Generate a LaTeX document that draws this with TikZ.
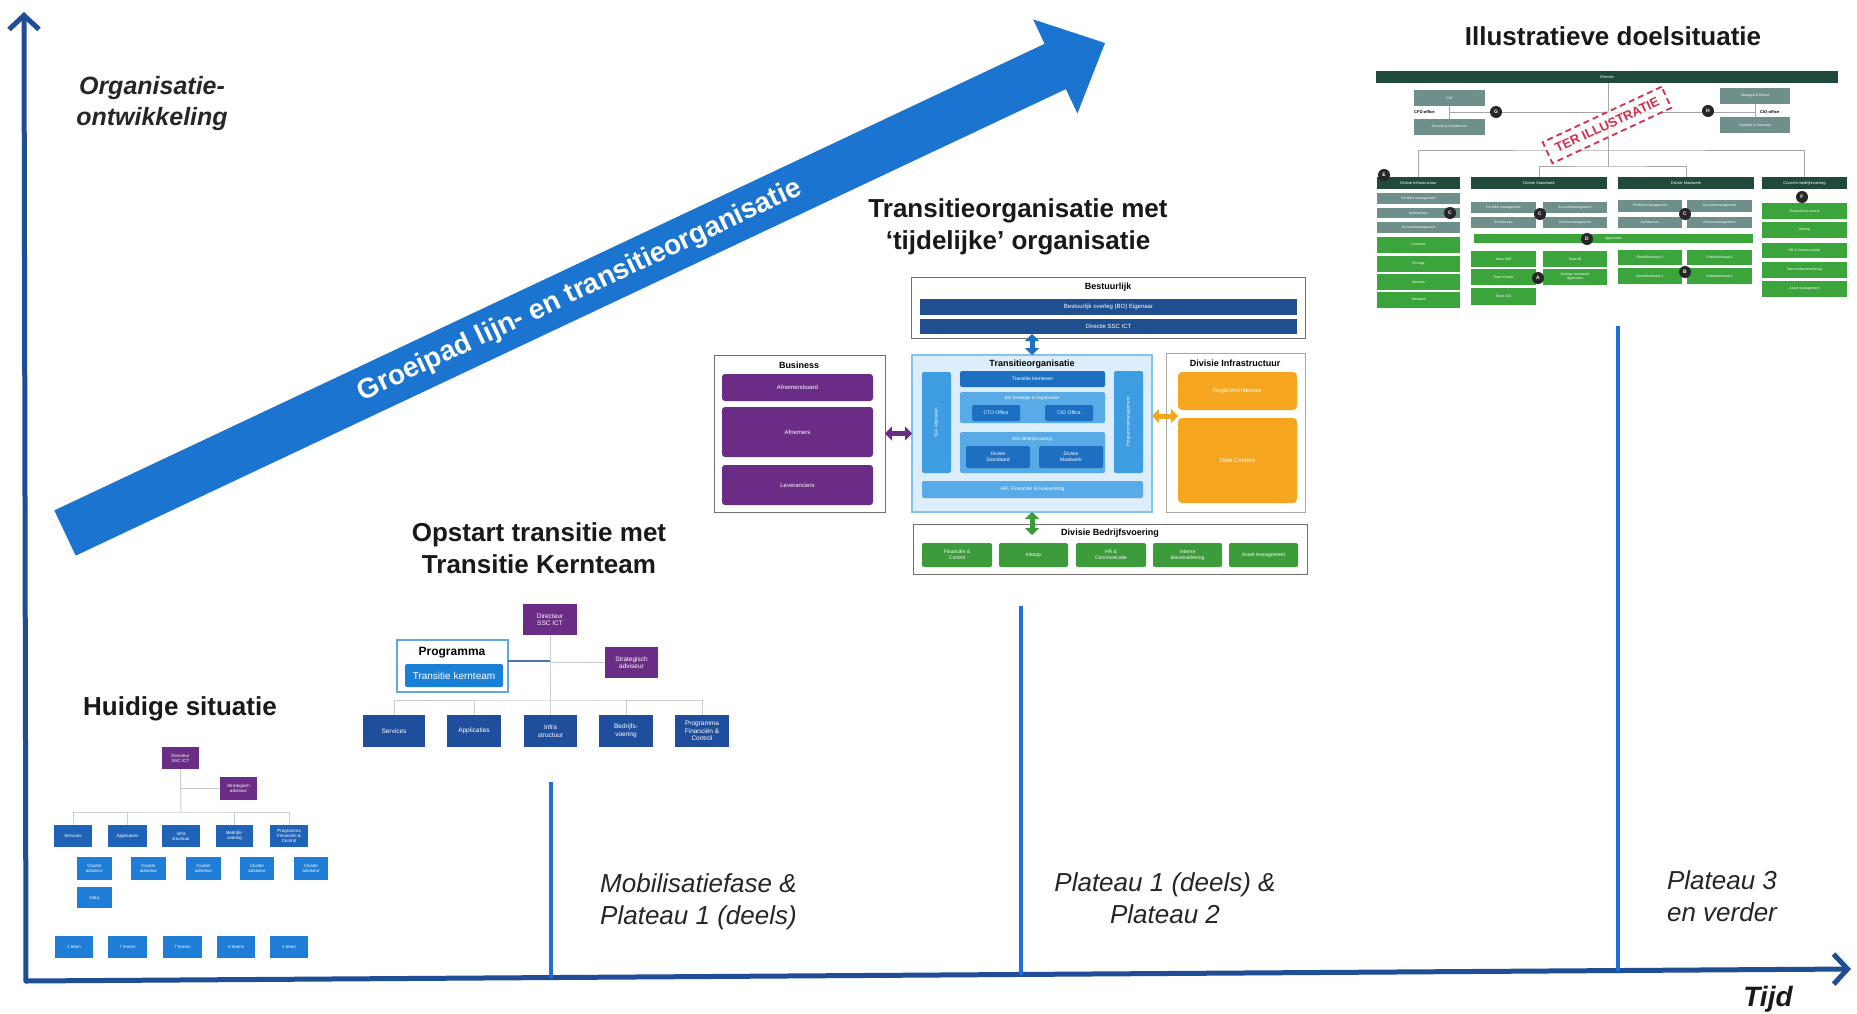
\documentclass[tikz,border=0pt]{standalone}
\usepackage{fontspec}
\setmainfont{Liberation Sans}
\usetikzlibrary{arrows.meta}
\definecolor{axisblue}{HTML}{1F4E96}
\definecolor{divblue}{HTML}{1F6FD6}
\definecolor{arrowblue}{HTML}{1B74CF}
\definecolor{hblue}{HTML}{1F63B8}
\definecolor{hlight}{HTML}{1E7DD6}
\definecolor{purp}{HTML}{6B2C86}
\definecolor{oblue}{HTML}{1F4F9C}
\definecolor{kblue}{HTML}{1A80D6}
\definecolor{navybar}{HTML}{1F4F8F}
\definecolor{tbg}{HTML}{DCEEFB}
\definecolor{tborder}{HTML}{86C3EC}
\definecolor{tside}{HTML}{3E9CE0}
\definecolor{tdark}{HTML}{1D6FC2}
\definecolor{tgroup}{HTML}{58ABE6}
\definecolor{orng}{HTML}{F5A61E}
\definecolor{grn}{HTML}{3C9C3C}
\definecolor{dgreen}{HTML}{1F4A3A}
\definecolor{gteal}{HTML}{6F8F8B}
\definecolor{lgreen}{HTML}{3BA53B}
\definecolor{stampred}{HTML}{D92E4A}
\definecolor{faintc}{HTML}{C9CED6}
\definecolor{boxgray}{HTML}{707070}
\newcommand\myfs[2]{\fontsize{#1}{#2}\selectfont}
\newcommand\obox[7]{%
  \pgfmathsetmacro\obw{#4-#2}\pgfmathsetmacro\obh{#5-#3}%
  \pgfmathsetmacro\obx{(#2+#4)/2}\pgfmathsetmacro\oby{(#3+#5)/2}%
  \node[#6,minimum width=\obw pt,minimum height=\obh pt] (#1) at (\obx,\oby) {#7};}
\begin{document}
\begin{tikzpicture}[x=1pt,y=-1pt,
  base/.style={inner sep=0pt,outer sep=0pt,align=center,text=white},
  hb/.style={base,fill=hblue,font=\myfs{4.5}{5}},
  hl/.style={base,fill=hlight,font=\myfs{4.5}{5}},
  pb/.style={base,fill=purp,font=\myfs{4.5}{5}},
  ob/.style={base,fill=oblue,font=\myfs{6.5}{7.5}},
  opb/.style={base,fill=purp,font=\myfs{6.5}{7.5}},
  frame/.style={base,draw=boxgray,line width=1pt,fill=white},
  ttl/.style={inner sep=0pt,font=\myfs{9}{10}\bfseries,text=black},
  navy/.style={base,fill=navybar,font=\myfs{6}{7}},
  pr/.style={base,fill=purp,rounded corners=3pt,font=\myfs{6}{7}},
  td/.style={base,fill=tdark,rounded corners=1.5pt,font=\myfs{5}{6}},
  tg/.style={base,fill=tgroup,rounded corners=2pt,font=\myfs{5}{6}},
  ts/.style={base,fill=tside,rounded corners=2pt,font=\myfs{5}{6}},
  og/.style={base,fill=orng,rounded corners=4pt,font=\myfs{6}{7}},
  gb/.style={base,fill=grn,rounded corners=2pt,font=\myfs{5}{6}},
  dh/.style={base,fill=dgreen,font=\myfs{4}{4.5}},
  dg/.style={base,fill=gteal,font=\myfs{3.5}{4}},
  dl/.style={base,fill=lgreen,font=\myfs{3.5}{4}},
  circ/.style={circle,fill=black!85,text=white,inner sep=0pt,minimum size=12pt,font=\myfs{5}{5}\bfseries},
  faint/.style={draw=faintc,line width=1pt},
  dline/.style={draw=gray!70,line width=0.8pt},
  axisline/.style={draw=axisblue,line width=5pt,line cap=round,line join=round},
  divline/.style={draw=divblue,line width=4pt},
  title/.style={inner sep=0pt,align=center,font=\myfs{26}{32}\bfseries,text=black!90},
  phase/.style={inner sep=0pt,font=\myfs{26}{32}\itshape,text=black!85},
  dbl/.style={line width=5pt}
]
\fill[white] (0,0) rectangle (1857,1014);
\useasboundingbox (0,0) rectangle (1857,1014);

% axes
\coordinate (origin) at (26,981);
\coordinate (ytop) at (24,12);
\coordinate (xend) at (1851,969);
\draw[axisline,-{Straight Barb[length=14pt,width=30pt]}] (origin) -- (ytop);
\draw[axisline,-{Straight Barb[length=14pt,width=30pt]}] (origin) -- (xend);

% dividers
\draw[divline] (551,782) -- (551,978);
\draw[divline] (1021,606) -- (1021,975);
\draw[divline] (1618,326) -- (1618,971);

% big arrow
\fill[arrowblue] (75.7,555.6) -- (54.3,510.4) -- (1044.6,43.8) -- (1033.1,19.4) -- (1105,43) -- (1077.4,113.5) -- (1065.9,89.1) -- cycle;
\node[inner sep=0pt,rotate=25.2,text=white,font=\myfs{28}{30}\bfseries] (grow) at (580,291) {Groeipad lijn- en transitieorganisatie};

% labels
\node[inner sep=0pt,align=center,font=\myfs{25}{31}\bfseries\itshape,text=black!85] (yl) at (152,104) {Organisatie-\\ontwikkeling};
\node[inner sep=0pt,font=\myfs{28}{30}\bfseries\itshape,text=black!90] (xl) at (1768,999) {Tijd};
\node[phase,align=left,anchor=west] (ph1) at (600,902) {Mobilisatiefase \&\\Plateau 1 (deels)};
\node[phase,align=center] (ph2) at (1165,898) {Plateau 1 (deels) \&\\Plateau 2};
\node[phase,align=center] (ph3) at (1722,896) {Plateau 3\\en verder};

\node[title] (t1) at (180,709) {Huidige situatie};
\node[title] (t2) at (539,548) {Opstart transitie met\\Transitie Kernteam};
\node[title] (t3) at (1018,227) {Transitieorganisatie met\\‘tijdelijke’ organisatie};
\node[title] (t4) at (1613,36) {Illustratieve doelsituatie};

% ---------- Huidige situatie ----------
\obox{h-dir}{162}{747}{199}{769}{pb}{Directeur\\SSC ICT}
\obox{h-adv}{220}{777}{257}{800}{pb}{Strategisch\\adviseur}
\obox{h-r1}{54}{825}{92}{847}{hb}{Services}
\obox{h-r2}{108}{825}{147}{847}{hb}{Applicaties}
\obox{h-r3}{162}{825}{200}{847}{hb}{Infra\\structuur}
\obox{h-r4}{216}{825}{253}{847}{hb}{Bedrijfs-\\voering}
\obox{h-r5}{270}{825}{308}{847}{hb}{Programma\\Financiën \&\\Control}
\obox{h-s1}{77}{857}{112}{880}{hl}{Cluster\\adviseur}
\obox{h-s2}{131}{857}{166}{880}{hl}{Cluster\\adviseur}
\obox{h-s3}{186}{857}{221}{880}{hl}{Cluster\\adviseur}
\obox{h-s4}{240}{857}{274}{880}{hl}{Cluster\\adviseur}
\obox{h-s5}{294}{857}{328}{880}{hl}{Cluster\\adviseur}
\obox{h-s6}{77}{887}{112}{908}{hl}{Data}
\obox{h-t1}{55}{936}{93}{958}{hl}{1 team}
\obox{h-t2}{108}{936}{147}{958}{hl}{7 teams}
\obox{h-t3}{163}{936}{202}{958}{hl}{7 teams}
\obox{h-t4}{217}{936}{255}{958}{hl}{4 teams}
\obox{h-t5}{270}{936}{308}{958}{hl}{1 team}
\coordinate (hbus) at (181,812);
\draw[faint] (h-dir.south) -- (hbus);
\draw[faint] (h-r1.north) |- (hbus) -| (h-r5.north);
\draw[faint] (h-r2.north) -- (h-r2.north |- hbus);
\draw[faint] (h-r4.north) -- (h-r4.north |- hbus);
\draw[faint] (h-dir.south |- h-adv.west) -- (h-adv.west);

% ---------- Opstart transitie ----------
\obox{o-dir}{523}{604}{577}{635}{opb}{Directeur\\SSC ICT}
\obox{o-adv}{605}{647}{658}{678}{opb}{Strategisch\\adviseur}
\obox{o-prog}{397}{640}{508}{692}{base,draw=kblue!70,line width=1.5pt,fill=white}{}
\node[inner sep=0pt,font=\myfs{12}{13}\bfseries,text=black] (o-progt) at (452,653) {Programma};
\obox{o-kern}{405}{664}{503}{687}{base,fill=kblue,rounded corners=2pt,font=\myfs{10}{11}}{Transitie kernteam}
\obox{o-r1}{363}{715}{425}{747}{ob}{Services}
\obox{o-r2}{447}{715}{501}{747}{ob}{Applicaties}
\obox{o-r3}{524}{715}{577}{747}{ob}{Infra\\structuur}
\obox{o-r4}{599}{715}{653}{747}{ob}{Bedrijfs-\\voering}
\obox{o-r5}{675}{715}{729}{747}{ob}{Programma\\Financiën \&\\Control}
\coordinate (obus) at (550,700);
\draw[faint] (o-dir.south) -- (obus);
\draw[faint] (o-r1.north) |- (obus) -| (o-r5.north);
\draw[faint] (o-r2.north) -- (o-r2.north |- obus);
\draw[faint] (o-r3.north) -- (o-r3.north |- obus);
\draw[faint] (o-r4.north) -- (o-r4.north |- obus);
\draw[faint] (o-dir.south |- o-adv.west) -- (o-adv.west);
\draw[draw=oblue!80,line width=1.5pt] (o-prog.east |- 0,661) -- (o-dir.south |- 0,661);

% ---------- Transitieorganisatie ----------
\obox{b-box}{911}{277}{1305}{338}{frame}{}
\node[ttl] (b-ttl) at (1108,287) {Bestuurlijk};
\obox{b-bo}{920}{299}{1297}{315}{navy}{Bestuurlijk overleg (BO) Eigenaar}
\obox{b-dir}{920}{319}{1297}{334}{navy}{Directie SSC ICT}

\obox{biz}{714}{355}{885}{512}{frame}{}
\node[ttl] (biz-ttl) at (799,365) {Business};
\obox{p1}{722}{374}{873}{401}{pr}{Afnemersboard}
\obox{p2}{722}{407}{873}{457}{pr}{Afnemers}
\obox{p3}{722}{465}{873}{505}{pr}{Leveranciers}

\obox{trans}{912}{355}{1152}{512}{base,fill=tbg,draw=tborder,line width=1.2pt}{}
\node[ttl] (trans-ttl) at (1032,364) {Transitieorganisatie};
\obox{t-left}{922}{372}{951}{473}{ts}{}
\node[rotate=90,text=white,font=\myfs{4.5}{5},inner sep=0pt] (t-lefttxt) at (t-left) {SLA Afspraken};
\obox{t-right}{1114}{371}{1143}{473}{ts}{}
\node[rotate=90,text=white,font=\myfs{4.5}{5},inner sep=0pt] (t-righttxt) at (t-right) {Programmamanagement};
\obox{t-kern}{960}{371}{1105}{387}{td}{Transitie kernteam}
\obox{t-bo}{960}{392}{1105}{423}{tg}{}
\node[text=white,font=\myfs{4.5}{5},inner sep=0pt] (t-botxt) at (1032,398) {BO Strategie \& Organisatie};
\obox{t-cto}{972}{405}{1020}{421}{td}{CTO Office}
\obox{t-cio}{1045}{405}{1093}{421}{td}{CIO Office}
\obox{t-ssc}{960}{432}{1105}{473}{tg}{}
\node[text=white,font=\myfs{4.5}{5},inner sep=0pt] (t-ssctxt) at (1032,439) {SSC Bedrijfsvoering};
\obox{t-dst}{966}{446}{1030}{468}{td}{Divisie\\Standaard}
\obox{t-dmw}{1039}{446}{1103}{468}{td}{Divisie\\Maatwerk}
\obox{t-hr}{922}{481}{1143}{498}{tg}{HR, Financiën \& Huisvesting}

\obox{inf}{1166}{353}{1305}{512}{frame,draw=boxgray!60}{}
\node[ttl] (inf-ttl) at (1235,363) {Divisie Infrastructuur};
\obox{o1}{1178}{372}{1297}{410}{og}{Regie/Architectuur}
\obox{o2}{1178}{418}{1297}{503}{og}{Data Centers}

\obox{bv}{913}{524}{1307}{574}{frame}{}
\node[ttl] (bv-ttl) at (1110,533) {Divisie Bedrijfsvoering};
\obox{g1}{922}{543}{992}{567}{gb}{Financiën \&\\Control}
\obox{g2}{999}{543}{1068}{567}{gb}{Inkoop}
\obox{g3}{1076}{543}{1146}{567}{gb}{HR \&\\Communicatie}
\obox{g4}{1153}{543}{1222}{567}{gb}{Interne\\dienstverlening}
\obox{g5}{1229}{543}{1298}{567}{gb}{Asset management}

\draw[dbl,draw=purp,{Triangle[length=7pt,width=14pt]}-{Triangle[length=7pt,width=14pt]}] (biz.east) -- (trans.west);
\draw[dbl,draw=tdark,{Triangle[length=7pt,width=14pt]}-{Triangle[length=7pt,width=14pt]},shorten <=-4pt] (trans.north |- b-box.south) -- (trans.north);
\draw[dbl,draw=orng,{Triangle[length=7pt,width=14pt]}-{Triangle[length=7pt,width=14pt]},shorten >=-12pt] (trans.east |- 0,416) -- (inf.west |- 0,416);
\draw[dbl,draw=grn,{Triangle[length=7pt,width=14pt]}-{Triangle[length=7pt,width=14pt]},shorten >=-11pt] (trans.south) -- (trans.south |- bv.north);

% ---------- Illustratieve doelsituatie ----------
\obox{d-dir}{1376}{71}{1838}{83}{dh}{Directie}
\obox{d-cio}{1414}{90}{1485}{106}{dg}{CIO}
\obox{d-sec}{1414}{119}{1485}{135}{dg}{Security \& Architectuur}
\obox{d-str}{1720}{88}{1790}{104}{dg}{Strategie \& Beleid}
\obox{d-kwa}{1720}{117}{1790}{133}{dg}{Kwaliteit \& Innovatie}
\node[inner sep=0pt,anchor=west,font=\myfs{4}{4.5}\bfseries] (d-cfol) at (1414,112) {CFO-office};
\node[inner sep=0pt,anchor=west,font=\myfs{4}{4.5}\bfseries] (d-ciol) at (1760,112) {CIO-office};

\obox{dA}{1377}{177}{1460}{189}{dh}{Divisie Infrastructuur}
\obox{dA1}{1377}{193}{1460}{204}{dg}{Portfolio management}
\obox{dA2}{1377}{208}{1460}{218}{dg}{Architectuur}
\obox{dA3}{1377}{222}{1460}{233}{dg}{Accountmanagement}
\obox{dA4}{1377}{237}{1460}{253}{dl}{Compute}
\obox{dA5}{1377}{256}{1460}{272}{dl}{Storage}
\obox{dA6}{1377}{274}{1460}{290}{dl}{Netwerk}
\obox{dA7}{1377}{292}{1460}{308}{dl}{Werkplek}

\obox{dB}{1471}{177}{1607}{189}{dh}{Divisie Standaard}
\obox{dB1}{1471}{202}{1536}{213}{dg}{Portfolio management}
\obox{dB2}{1543}{202}{1607}{213}{dg}{Accountmanagement}
\obox{dB3}{1471}{217}{1536}{228}{dg}{Architectuur}
\obox{dB4}{1543}{217}{1607}{228}{dg}{Servicemanagement}
\obox{dBD}{1474}{234}{1753}{243}{dl}{Applicaties}
\obox{dB5}{1471}{251}{1536}{267}{dl}{Team SAP}
\obox{dB6}{1543}{251}{1607}{267}{dl}{Team BI}
\obox{dB7}{1471}{269}{1536}{285}{dl}{Team Oracle}
\obox{dB8}{1543}{269}{1607}{285}{dl}{Overige standaard\\applicaties}
\obox{dB9}{1471}{288}{1536}{305}{dl}{Team GIS}

\obox{dC}{1618}{177}{1754}{189}{dh}{Divisie Maatwerk}
\obox{dC1}{1618}{200}{1682}{212}{dg}{Portfolio management}
\obox{dC2}{1687}{200}{1752}{212}{dg}{Accountmanagement}
\obox{dC3}{1618}{217}{1682}{228}{dg}{Architectuur}
\obox{dC4}{1687}{217}{1752}{228}{dg}{Servicemanagement}
\obox{dC5}{1618}{250}{1682}{265}{dl}{Ontwikkelstraat 1}
\obox{dC6}{1687}{250}{1752}{265}{dl}{Ontwikkelstraat 2}
\obox{dC7}{1618}{268}{1682}{284}{dl}{Ontwikkelstraat 3}
\obox{dC8}{1687}{268}{1752}{284}{dl}{Ontwikkelstraat 4}

\obox{dD}{1762}{177}{1847}{189}{dh}{Concern bedrijfsvoering}
\obox{dD1}{1762}{203}{1847}{219}{dl}{Financiën \& control}
\obox{dD2}{1762}{222}{1847}{238}{dl}{Inkoop}
\obox{dD3}{1762}{243}{1847}{258}{dl}{HR \& Communicatie}
\obox{dD4}{1762}{262}{1847}{278}{dl}{Interne dienstverlening}
\obox{dD5}{1762}{281}{1847}{297}{dl}{Asset management}

% org lines
\coordinate (dv) at (1608,166);
\coordinate (dh1) at (1608,150);
\draw[dline] (d-dir.south -| dv) -- (dv);
\draw[dline] (dA.north) |- (dh1) -| (dD.north);
\draw[dline] (dB.north) |- (dv) -| (dC.north);
\draw[dline] (d-cio) -- (d-sec);
\draw[dline] (d-str) -- (d-kwa);
\draw[dline] (d-cio.south |- 0,112) -- (dv |- 0,112);
\draw[dline] (dv |- 0,112) -- (d-str.south |- 0,112);

\node[draw=stampred,dash pattern=on 6pt off 4pt,line width=1.8pt,rotate=25,fill=white,fill opacity=0.7,text opacity=1,text=stampred,font=\myfs{13}{14}\bfseries,inner xsep=9pt,inner ysep=7pt] (stamp) at (1607,125) {TER ILLUSTRATIE};

\node[circ] (cG) at (1496,112) {G};
\node[circ] (cH) at (1708,111) {H};
\node[circ] (cE) at (1384,175) {E};
\node[circ] (cC1) at (1450,213) {C};
\node[circ] (cC2) at (1540,214) {C};
\node[circ] (cD) at (1587,239) {D};
\node[circ] (cA) at (1538,278) {A};
\node[circ] (cC3) at (1685,214) {C};
\node[circ] (cB) at (1685,272) {B};
\node[circ] (cF) at (1802,197) {F};
\end{tikzpicture}
\end{document}
